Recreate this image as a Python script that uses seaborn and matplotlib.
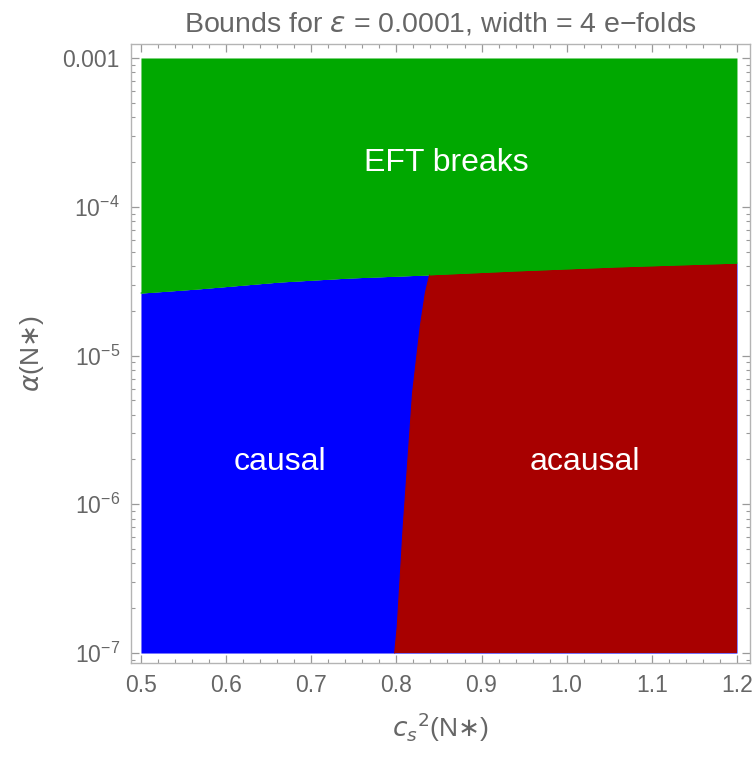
import numpy as np
import pandas as pd
import matplotlib
matplotlib.use("Agg")
import matplotlib.pyplot as plt
from matplotlib.ticker import MultipleLocator, LogLocator, NullFormatter
import seaborn as sns

# ---- data ----
# upper boundary (EFT breaks above)
eft_cs2 = [0.5, 0.566, 0.663, 0.745, 0.836, 0.939, 1.059, 1.2]
eft_alpha = [2.63e-5, 2.80e-5, 3.12e-5, 3.32e-5, 3.48e-5, 3.70e-5, 3.94e-5, 4.18e-5]
# causal / acausal boundary
cau_alpha = [1e-7, 1.50e-7, 7.03e-7, 5.60e-6, 1.56e-5, 2.63e-5, 3.48e-5]
cau_cs2 = [0.798, 0.801, 0.808, 0.819, 0.828, 0.834, 0.839]

x_range = [0.5, 1.2]
alpha_range = [1e-7, 1e-3]

region_labels = ["EFT breaks", "causal", "acausal"]
label_cs2 = [0.859, 0.663, 1.021]
label_alpha = [1.97e-4, 1.92e-6, 1.92e-6]

x_ticks = [0.5, 0.6, 0.7, 0.8, 0.9, 1.0, 1.1, 1.2]
x_ticklabels = ["0.5", "0.6", "0.7", "0.8", "0.9", "1.0", "1.1", "1.2"]
y_ticks = [1e-7, 1e-6, 1e-5, 1e-4, 1e-3]
y_ticklabels = [r"$\mathregular{10^{-7}}$", r"$\mathregular{10^{-6}}$",
                r"$\mathregular{10^{-5}}$", r"$\mathregular{10^{-4}}$", "0.001"]

GREEN = "#00a800"
BLUE = "#0000ff"
RED = "#a80000"
GRAY = "#666666"
FRAME = "#b4b4b4"

sns.set_theme(style="ticks")
plt.rcParams["font.family"] = ["Liberation Sans", "DejaVu Sans"]
plt.rcParams["mathtext.fontset"] = "dejavusans"

fig = plt.figure(figsize=(7.56, 7.62), dpi=100)
ax = fig.add_axes([131 / 756, 1 - 663 / 762, (750 - 131) / 756, (663 - 44) / 762])
ax.set_yscale("log")

eft = pd.DataFrame({"cs2": eft_cs2, "alpha": eft_alpha})
cau = pd.DataFrame({"cs2": cau_cs2, "alpha": cau_alpha})

# blue (causal) base region below EFT boundary
ax.fill_between(eft["cs2"], alpha_range[0], eft["alpha"], color=BLUE, lw=0)
# red (acausal) region
top_mask = eft["cs2"] > cau_cs2[-1]
red_x = list(cau["cs2"]) + list(eft["cs2"][top_mask]) + [x_range[1]]
red_y = list(cau["alpha"]) + list(eft["alpha"][top_mask]) + [alpha_range[0]]
ax.fill(red_x, red_y, color=RED, lw=0)
# green (EFT breaks) region
ax.fill_between(eft["cs2"], eft["alpha"], alpha_range[1], color=GREEN, lw=0)

sns.lineplot(data=eft, x="cs2", y="alpha", ax=ax, color=GREEN, lw=0.8, sort=False)
sns.lineplot(data=cau, x="cs2", y="alpha", ax=ax, color=RED, lw=0.8, sort=False)

for t, x, y in zip(region_labels, label_cs2, label_alpha):
    ax.text(x, y, t, color="white", fontsize=23, ha="center", va="center")

# limits with Mathematica-like padding
ax.set_xlim(0.4883, 1.2153)
ax.set_ylim(10 ** -7.067, 10 ** -2.906)

ax.set_xticks(x_ticks)
ax.set_xticklabels(x_ticklabels)
ax.xaxis.set_minor_locator(MultipleLocator(0.02))
ax.set_yticks(y_ticks)
ax.set_yticklabels(y_ticklabels)
ax.yaxis.set_minor_locator(LogLocator(base=10, subs=np.arange(2, 10)))
ax.yaxis.set_minor_formatter(NullFormatter())

ax.tick_params(which="both", direction="in", top=True, right=True,
               color="#999999", labelcolor=GRAY, labelsize=16.5)
ax.tick_params(which="major", length=6, width=0.9, pad=8)
ax.tick_params(which="minor", length=3, width=0.8)
for s in ax.spines.values():
    s.set_color(FRAME)
    s.set_linewidth(1.0)

ax.set_xlabel(r"$c_s{}^{2}$(N$\ast$)", color=GRAY, fontsize=19, labelpad=10)
ax.set_ylabel(r"$\alpha$(N$\ast$)", color=GRAY, fontsize=19, labelpad=12)
ax.set_title(r"Bounds for $\epsilon$ = 0.0001, width = 4 e−folds",
             color=GRAY, fontsize=20.5, pad=9)

fig.savefig("out.png", dpi=100)
